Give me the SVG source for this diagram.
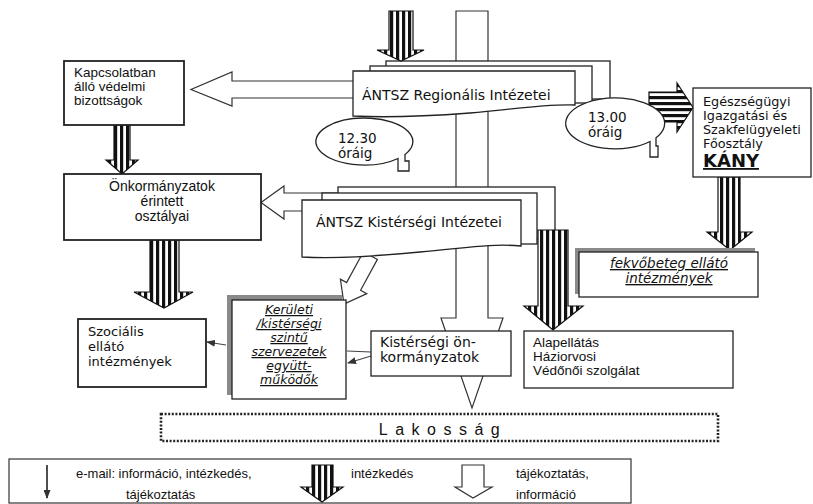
<svg xmlns="http://www.w3.org/2000/svg" width="813" height="504" viewBox="0 0 813 504">
<defs>
<pattern id="vs" width="6" height="6" patternUnits="userSpaceOnUse"><rect width="6" height="6" fill="#fff"/><rect width="3.2" height="6" fill="#111"/></pattern>
<pattern id="hs" width="6" height="6" patternUnits="userSpaceOnUse"><rect width="6" height="6" fill="#fff"/><rect width="6" height="3.2" fill="#111"/></pattern>
<marker id="ah" markerWidth="9" markerHeight="7" refX="8" refY="3.5" orient="auto" markerUnits="userSpaceOnUse"><path d="M0,0 L9,3.5 L0,7 z" fill="#333"/></marker>
</defs>
<style>
.box{fill:#fff;stroke:#222;stroke-width:1.3}
.bx2{fill:#fff;stroke:#222;stroke-width:1.8}
.wa{fill:#fff;stroke:#333;stroke-width:1.2}
.sa{stroke:#111;stroke-width:1.2}
.va{fill:url(#vs)}
.ha{fill:url(#hs)}
.sh{fill:#8a8a8a}
.thin{stroke:#444;stroke-width:1.2;fill:none}
.a{font-family:"Liberation Sans",Arial,sans-serif;font-size:13.5px;fill:#111}
.v{font-family:"DejaVu Sans",Verdana,sans-serif;font-size:13.5px;fill:#111}
.vi{font-family:"DejaVu Sans",Verdana,sans-serif;font-size:12.5px;font-style:italic;text-decoration:underline;fill:#111}
.k{font-family:"DejaVu Sans",Verdana,sans-serif;font-size:12.8px;fill:#111}
.lg{font-family:"Liberation Sans",Arial,sans-serif;font-size:13px;fill:#111}
</style>

<g id="connectors">
<path class="wa" d="M456,11 H488 V318 H503 L472,408 L441,318 H456 Z"/>
<path class="wa" d="M386,81 H232 V72 L191,89.5 L232,106 V98 H386 Z"/>
<path class="wa" d="M338,193 H284 V186 L261,202.5 L284,219 V211 H338 Z"/>
<path class="wa" d="M377.4,259.4 L360.6,290.2 L366.8,293.6 L344,304 L340.4,279.2 L346.6,282.6 L363.4,251.8 Z"/>
</g>

<g id="regionalis">
<rect class="box" x="386" y="61" width="224" height="38"/>
<rect class="box" x="370" y="66" width="222" height="37"/>
<path class="box" d="M353,71 H575 V105 C540,104 510,110 470,113 C430,116 390,118 353,116 Z"/>
<text class="v" x="362" y="100" style="font-size:14px">ÁNTSZ Regionális Intézetei</text>
</g>

<g id="kisterseg">
<rect class="box" x="338" y="187" width="217" height="52"/>
<rect class="box" x="322" y="193" width="215" height="51"/>
<path class="box" d="M302,200 H521 V246 C490,243 460,249 420,252 C380,256 340,259 302,257 Z"/>
<text class="v" x="316" y="227" style="font-size:14px">ÁNTSZ Kistérségi  Intézetei</text>
</g>

<g id="striped-arrows">
<path class="va sa" d="M389,11 H413 V50 H424 L401,61 L377,50 H389 Z"/>
<path class="va sa" d="M114,125 H130 V160 H138 L122,174 L106,160 H114 Z"/>
<path class="va sa" d="M150,240 H179 V292 H193 L164,308 L134,292 H150 Z"/>
<path class="va sa" d="M538,230 H568 V306 H583 L553,330 L524,306 H538 Z"/>
<path class="va sa" d="M718,177 H740 V232 H752 L730,250 L707,232 H718 Z"/>
<path class="ha sa" d="M649,92 V122 H677 V132 L693,107.5 L677,83 V92 Z"/>
<line class="thin" x1="226" y1="345" x2="207" y2="342" marker-end="url(#ah)"/>
<line class="thin" x1="371" y1="352" x2="347" y2="351"/>
<line class="thin" x1="371" y1="356" x2="348" y2="363" marker-end="url(#ah)"/>
</g>

<g id="kapcsolat">
<rect class="bx2" x="64" y="61" width="120" height="64"/>
<text class="a" x="74" y="77">Kapcsolatban</text>
<text class="a" x="74" y="91">álló védelmi</text>
<text class="a" x="74" y="105">bizottságok</text>
</g>

<g id="onkormanyzatok">
<rect class="bx2" x="64" y="174" width="197" height="66"/>
<text class="a" x="162" y="191" text-anchor="middle" style="font-size:14px">Önkormányzatok</text>
<text class="a" x="162" y="206" text-anchor="middle" style="font-size:14px">érintett</text>
<text class="a" x="162" y="221" text-anchor="middle" style="font-size:14px">osztályai</text>
</g>

<g id="callout-1230">
<path class="box" d="M398,158.5 L398,171 L409,171 L409,161 L405,161 L405,154.4 A48.5,23.5 0 1 0 398,158.5 Z"/>
<text class="v" x="338" y="143">12.30</text>
<text class="v" x="338" y="158">óráig</text>
</g>

<g id="callout-1300">
<path class="box" d="M650,141.5 L650,157 L658,157 L658,146 L656,146 L656,137.8 A49.5,25.5 0 1 0 650,141.5 Z"/>
<text class="v" x="588" y="122">13.00</text>
<text class="v" x="588" y="137">óráig</text>
</g>

<g id="kany">
<rect class="box" x="693" y="88" width="118" height="89"/>
<text class="k" x="703" y="106">Egészségügyi</text>
<text class="k" x="703" y="120">Igazgatási és</text>
<text class="k" x="703" y="134">Szakfelügyeleti</text>
<text class="k" x="703" y="148">Főosztály</text>
<text class="k" x="703" y="167" style="font-size:18px;font-weight:bold;text-decoration:underline">KÁNY</text>
</g>

<g id="fekvobeteg">
<rect class="sh" x="575" y="248" width="180" height="46"/>
<rect class="box" x="579" y="252" width="179" height="45"/>
<text class="vi" x="669" y="268" text-anchor="middle" style="font-size:13.5px">fekvőbeteg ellátó</text>
<text class="vi" x="669" y="283" text-anchor="middle" style="font-size:13.5px">intézmények</text>
</g>

<g id="szocialis">
<rect class="bx2" x="78" y="319" width="128" height="68"/>
<text class="v" x="88" y="336" style="font-size:13px">Szociális</text>
<text class="v" x="88" y="351" style="font-size:13px">ellátó</text>
<text class="v" x="88" y="366" style="font-size:13px">intézmények</text>
</g>

<g id="kerueleti">
<rect class="sh" x="227" y="295" width="115" height="100"/>
<rect class="box" x="232" y="300" width="114" height="99"/>
<text class="vi" x="289" y="314" text-anchor="middle">Kerületi</text>
<text class="vi" x="289" y="328" text-anchor="middle">/kistérségi</text>
<text class="vi" x="289" y="342" text-anchor="middle">szintű</text>
<text class="vi" x="289" y="356" text-anchor="middle">szervezetek</text>
<text class="vi" x="289" y="370" text-anchor="middle">együtt-</text>
<text class="vi" x="289" y="384" text-anchor="middle">működők</text>
</g>

<g id="kisterseg-onk">
<rect class="box" x="371" y="331" width="140" height="45"/>
<text class="v" x="380" y="347" style="font-size:14px">Kistérségi ön-</text>
<text class="v" x="380" y="362" style="font-size:14px">kormányzatok</text>
</g>

<g id="alapellatas">
<rect class="box" x="524" y="331" width="209" height="57"/>
<text class="a" x="533" y="347">Alapellátás</text>
<text class="a" x="533" y="361">Háziorvosi</text>
<text class="a" x="533" y="375">Védőnői szolgálat</text>
</g>

<g id="lakossag">
<rect x="161" y="414" width="557" height="27" fill="#fff" stroke="#222" stroke-width="2.6" stroke-dasharray="2 1.6"/>
<text class="a" x="443" y="435" text-anchor="middle" style="font-size:16px;letter-spacing:7.5px">Lakosság</text>
</g>

<g id="legend">
<rect x="9" y="459" width="622" height="44" fill="#fff" stroke="#333" stroke-width="1.2"/>
<line x1="47" y1="465" x2="47" y2="498" stroke="#222" stroke-width="1.6" marker-end="url(#ah)"/>
<text class="lg" x="76" y="478">e-mail: információ, intézkedés,</text>
<text class="lg" x="126" y="499">tájékoztatás</text>
<path class="va sa" d="M312,465 H333 V487 H343 L322,502 L301,487 H312 Z"/>
<text class="lg" x="351" y="478">intézkedés</text>
<path class="wa" d="M462,465 H484 V487 H492 L473,498 L455,487 H462 Z"/>
<text class="lg" x="516" y="478">tájékoztatás,</text>
<text class="lg" x="516" y="499">információ</text>
</g>
</svg>
